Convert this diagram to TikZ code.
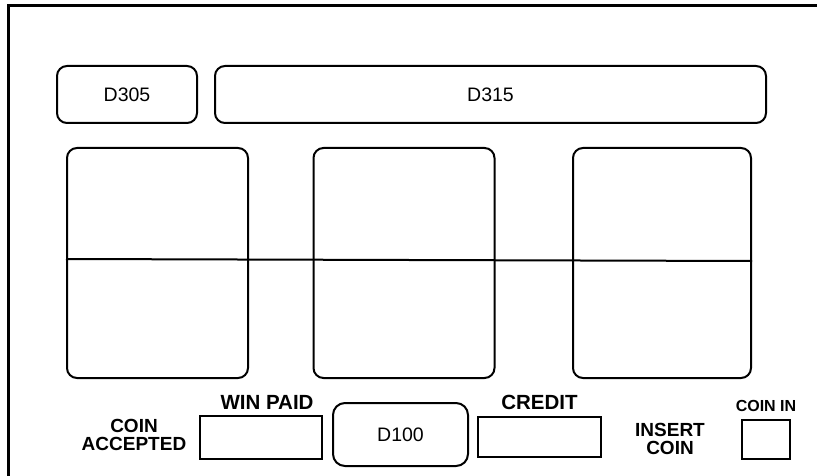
\documentclass[tikz,border=0pt]{standalone}
\usepackage{fontspec}
\setmainfont{Liberation Sans}
\usetikzlibrary{positioning}
\tikzset{
  lampbox/.style={draw,line width=2pt,rounded corners=10pt,inner sep=0pt,
    font=\fontsize{19.5}{20}\selectfont},
  meterbox/.style={draw,line width=2pt,inner sep=0pt},
  panellab/.style={font=\fontsize{19}{18}\selectfont\bfseries,align=center,inner sep=0pt}
}
\begin{document}
\begin{tikzpicture}[x=1pt,y=-1pt]
  \useasboundingbox (0,0) rectangle (817,476);
  \def\rw{181} % reel width
  \def\rh{230} % reel height
  % --- outer frame (cut at right and bottom) ---
  \draw[line width=3pt] (8,476) -- (8,6) -- (817,6);
  % --- top lamps ---
  \node[lampbox,minimum width=140,minimum height=57] (d305) at (127,94.5) {D305};
  \node[lampbox,minimum width=551,minimum height=57] (d315) at (490.5,94.5) {D315};
  % --- reel windows ---
  \node[lampbox,minimum width=\rw,minimum height=\rh] (reelA) at (157.5,263) {};
  \node[lampbox,minimum width=\rw,minimum height=\rh] (reelB) at (404,263) {};
  \node[lampbox,minimum width=178,minimum height=\rh] (reelC) at (662,263) {};
  % --- pay line ---
  \coordinate (payl) at (reelA.west |- 0,259);
  \coordinate (payr) at (reelC.east |- 0,261);
  \draw[line width=2pt] (payl) -- (payr);
  % --- bottom meters ---
  \node[lampbox,rounded corners=12pt,minimum width=135,minimum height=63] (d100) at (400.5,434.5) {D100};
  \node[meterbox,minimum width=122,minimum height=43] (winbox) at (261,437.5) {};
  \node[meterbox,minimum width=123,minimum height=40] (credbox) at (539.5,437) {};
  \node[meterbox,minimum width=48,minimum height=39] (coinbox) at (766,439.5) {};
  % --- bottom labels ---
  \node[panellab] (coinacc) at (134,435) {COIN\\ACCEPTED};
  \node[panellab,font=\fontsize{20.5}{20}\selectfont\bfseries,above=5pt of winbox,xshift=6pt] (winlab) {WIN PAID};
  \node[panellab,font=\fontsize{20.5}{20}\selectfont\bfseries,above=6pt of credbox] (credlab) {CREDIT};
  \node[panellab] (insert) at (670,438.5) {INSERT\\COIN};
  \node[panellab,font=\fontsize{16}{17}\selectfont\bfseries,above=7pt of coinbox] (coinlab) {COIN IN};
\end{tikzpicture}
\end{document}
